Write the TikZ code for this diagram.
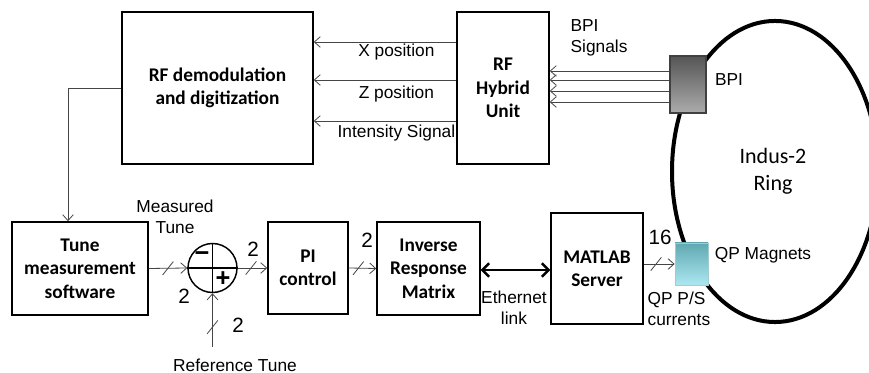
\documentclass[tikz,border=0pt]{standalone}
\usepackage{fontspec}
\setmainfont{Liberation Sans}
\newfontfamily\calfont{Carlito}
\usetikzlibrary{arrows.meta}
\definecolor{bpidark}{HTML}{555555}
\definecolor{bpilight}{HTML}{ACACAC}
\definecolor{qpdark}{HTML}{60A8B2}
\definecolor{qplight}{HTML}{ACE7F0}
\definecolor{sigline}{HTML}{454545}
\newcommand{\busmark}[1]{\draw[sigline,line width=0.6pt] (#1) +(-4pt,-5pt) -- +(4pt,5pt);}

\begin{document}
\begin{tikzpicture}[x=0.75pt,y=-0.75pt,
  blk/.style={draw,line width=1.1pt,align=center,inner sep=0pt,
    font=\calfont\bfseries\fontsize{14.5}{17.5}\selectfont},
  lbl/.style={font=\fontsize{13}{15.75}\selectfont,inner sep=1pt,align=center},
  num/.style={font=\fontsize{15.5}{18}\selectfont,inner sep=0pt},
  sig/.style={draw=sigline,line width=0.6pt,-{Straight Barb[length=4.5pt,width=8pt]}}]
  \useasboundingbox (0,0) rectangle (869,373);
  % ring
  \begin{scope}
    \clip (0,0) rectangle (869,373);
    \draw[line width=3pt] (775,171.5) ellipse [x radius=77.25pt, y radius=112.9pt];
  \end{scope}
  \node[font=\calfont\fontsize{16.5}{20}\selectfont,align=center] (ring) at (773,171) {Indus-2\\Ring};
  % upper row
  \node[blk,minimum width=143.25pt,minimum height=114pt] (demod) at (217.5,88) {RF demodulation\\and digitization};
  \node[blk,minimum width=69pt,minimum height=114pt] (hybrid) at (503,88) {RF\\Hybrid\\Unit};
  \foreach \yy/\gap/\txt in {42/0/X position,80/3/Z position,121/1.5/Intensity Signal}
    \draw[sig] (hybrid.west |- 0,\yy) -- node[lbl,below=\gap pt,pos=0.42] {\txt} (demod.east |- 0,\yy);
  \foreach \yy in {71,80,91,102}
    \draw[sig] (688,\yy) -- (hybrid.east |- 0,\yy);
  \node[draw=black!75,line width=0.8pt,top color=bpidark,bottom color=bpilight,
    minimum width=27pt,minimum height=42.75pt,inner sep=0pt] (bpi) at (688,84.5) {};
  \node[lbl,align=left,anchor=west] (bpisig) at (569,37.5) {BPI\\Signals};
  \node[lbl] (bpitxt) at (729,80) {BPI};
  % lower row
  \node[blk,minimum width=102pt,minimum height=69.75pt] (tune) at (80,268.5) {Tune\\measurement\\software};
  \node[draw,circle,line width=1.1pt,minimum size=36.75pt,inner sep=0pt] (sum) at (212.5,268) {};
  \draw[line width=1.1pt] (sum.west) -- (sum.east) (sum.north) -- (sum.south);
  \node[font=\bfseries\fontsize{19}{19}\selectfont,inner sep=0pt] (minus) at (202,257) {−};
  \node[font=\bfseries\fontsize{19}{19}\selectfont,inner sep=0pt] (plus) at (223,279) {+};
  \node[blk,minimum width=60pt,minimum height=69pt] (pi) at (308,268) {PI\\control};
  \node[blk,minimum width=77.25pt,minimum height=69.75pt] (inv) at (428.5,268.5) {Inverse\\Response\\Matrix};
  \node[blk,minimum width=69pt,minimum height=83.25pt] (matlab) at (597,268.5) {MATLAB\\Server};
  \node[draw=qpdark!60,line width=0.6pt,top color=qpdark,bottom color=qplight,
    minimum width=24.75pt,minimum height=31.5pt,inner sep=0pt] (qp) at (691.5,264) {};
  % connectors
  \draw[sig] (demod.west) -| ([xshift=-9pt]tune.north);
  \draw[sig] (tune.east) -- coordinate[pos=0.5] (b1) (sum.west);
  \busmark{b1}
  \draw[sig] (sum.east) -- coordinate[pos=0.45] (b2) (pi.west);
  \busmark{b2}
  \draw[sig] (pi.east) -- coordinate[pos=0.35] (b3) (inv.west);
  \busmark{b3}
  \coordinate (refin) at (212.5,347);
  \draw[sig] (refin) -- coordinate[pos=0.37] (b4) (sum.south);
  \busmark{b4}
  \draw[sig] (matlab.east |- qp.west) -- coordinate[pos=0.4] (b5) (qp.west);
  \busmark{b5}
  \draw[line width=1.8pt,{Straight Barb[length=5pt,width=10pt]}-{Straight Barb[length=5pt,width=10pt]}]
    (inv.east |- 0,270) -- (matlab.west |- 0,270);
  % labels
  \node[lbl] (meas) at (175,217) {Measured\\Tune};
  \node[lbl] (reftxt) at (235,365) {Reference Tune};
  \node[num] (n1) at (184,296) {2};
  \node[num] (n2) at (253,249) {2};
  \node[num] (n3) at (367,240) {2};
  \node[num] (n4) at (238,325) {2};
  \node[num] (n16) at (660,237) {16};
  \node[lbl] (eth) at (514,307.5) {Ethernet\\link};
  \node[lbl,align=left,anchor=west] (qpps) at (646,309) {QP P/S\\currents};
  \node[lbl] (qptxt) at (763,255) {QP Magnets};
\end{tikzpicture}
\end{document}
